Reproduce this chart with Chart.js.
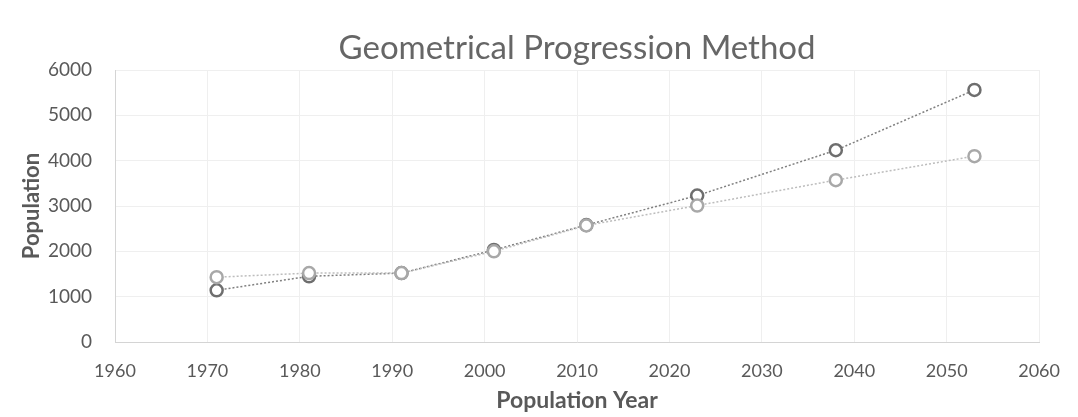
<!DOCTYPE html>
<html>
<head>
<meta charset="utf-8">
<script src="https://cdn.jsdelivr.net/npm/chart.js@4"></script>
<style>
  html, body { margin: 0; padding: 0; background: #fff; }
  #wrap { width: 1078px; height: 417px; position: relative; }
</style>
</head>
<body>
<div id="wrap"><canvas id="chart" width="1078" height="417"></canvas></div>
<script>
// data
const years = [1971, 1981, 1991, 2001, 2011, 2023, 2038, 2053];
const darkSeries = [1140, 1450, 1520, 2030, 2580, 3230, 4230, 5560];
const lightSeries = [1430, 1520, 1520, 2000, 2570, 3010, 3570, 4100];
const xTicks = [1960, 1970, 1980, 1990, 2000, 2010, 2020, 2030, 2040, 2050, 2060];
const yTicks = [0, 1000, 2000, 3000, 4000, 5000, 6000];

const font = 'Lato, "Open Sans", sans-serif';
const toPoints = vals => years.map((y, i) => ({ x: y, y: vals[i] }));

const ctx = document.getElementById('chart').getContext('2d');
new Chart(ctx, {
    type: 'scatter',
    data: {
        datasets: [
            {
                label: 'Light',
                data: toPoints(lightSeries),
                showLine: true,
                borderColor: '#bdbdbd',
                borderWidth: 1.5,
                borderDash: [2, 2],
                pointRadius: 6,
                pointBorderWidth: 2.5,
                pointBorderColor: '#a8a8a8',
                pointBackgroundColor: '#ffffff'
            },
            {
                label: 'Dark',
                data: toPoints(darkSeries),
                showLine: true,
                borderColor: '#808080',
                borderWidth: 1.5,
                borderDash: [2, 2],
                pointRadius: 6,
                pointBorderWidth: 2.5,
                pointBorderColor: '#6e6e6e',
                pointBackgroundColor: '#ffffff'
            }
        ]
    },
    options: {
        responsive: false,
        animation: false,
        layout: { padding: { left: 19, right: 36, top: 0, bottom: 3 } },
        plugins: {
            legend: { display: false },
            tooltip: { enabled: false }
        },
        scales: {
            x: {
                type: 'linear',
                min: xTicks[0],
                max: xTicks[xTicks.length - 1],
                afterBuildTicks: s => { s.ticks = xTicks.map(v => ({ value: v })); },
                afterFit: s => { s.height = 72; },
                ticks: { color: '#595959', font: { family: font, size: 18 }, padding: 18, callback: v => String(v) },
                grid: { color: '#efefef', drawTicks: false },
                border: { color: '#d4d4d4' },
                title: { display: true, text: 'Population Year', color: '#595959', font: { family: font, size: 23, weight: 'bold', lineHeight: 1.2 }, padding: { top: 0, bottom: 0 } }
            },
            // top axis only carries the chart title, centred over the plot area
            xTop: {
                type: 'linear',
                position: 'top',
                min: xTicks[0],
                max: xTicks[xTicks.length - 1],
                afterFit: s => { s.height = 70; },
                ticks: { display: false },
                grid: { display: false, drawTicks: false },
                border: { display: false },
                title: { display: true, text: 'Geometrical Progression Method', color: '#666', font: { family: font, size: 33, weight: 'normal', lineHeight: 1.2 }, padding: { top: 29, bottom: 0 } }
            },
            y: {
                min: yTicks[0],
                max: yTicks[yTicks.length - 1],
                afterBuildTicks: s => { s.ticks = yTicks.map(v => ({ value: v })); },
                afterFit: s => { s.width = 96; },
                ticks: { color: '#595959', font: { family: font, size: 19 }, padding: 23, callback: v => String(v) },
                grid: { color: '#efefef', drawTicks: false },
                border: { color: '#d4d4d4' },
                title: { display: true, text: 'Population', color: '#595959', font: { family: font, size: 22, weight: 'bold', lineHeight: 1.2 }, padding: { top: 0, bottom: 0 } }
            }
        }
    }
});
</script>
</body>
</html>
